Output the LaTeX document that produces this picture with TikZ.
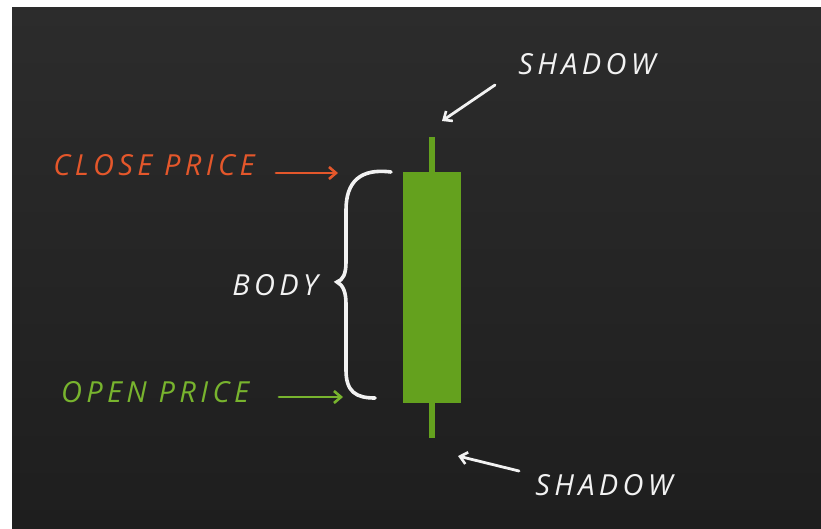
\documentclass[tikz,border=0pt]{standalone}
\usepackage{fontspec}
\setsansfont{Open Sans}
\usetikzlibrary{arrows.meta,positioning}
\definecolor{boardtop}{HTML}{2C2C2C}
\definecolor{boardbot}{HTML}{1E1E1E}
\definecolor{candlegreen}{HTML}{64A11E}
\definecolor{opengreen}{HTML}{78B42E}
\definecolor{closeorange}{HTML}{E4572B}
\definecolor{chalkwhite}{HTML}{F2F2F2}
\begin{document}
\begin{tikzpicture}[x=1pt,y=-1pt,
  word/.style={font=\sffamily\itshape\fontsize{29}{29}\selectfont\addfontfeatures{LetterSpace=15},
    inner sep=0pt, text depth=0pt},
  chalk/.style={line width=2.8pt, line cap=round,
    -{Straight Barb[length=7pt,width=12pt,line width=2.6pt]}},
  candle/.style={fill=candlegreen, draw=none, minimum width=58pt, minimum height=231pt, inner sep=0pt}]
  % board
  \useasboundingbox (0,0) rectangle (821,528);
  \fill[white] (0,0) rectangle (821,528);
  \shade[top color=boardtop, bottom color=boardbot] (12,7) rectangle (821,528);
  % candle
  \coordinate (wicktop) at (432,137);
  \coordinate (wickbot) at (432,438);
  \draw[candlegreen, line width=6pt] (wicktop) -- (wickbot);
  \node[candle] (body) at (432,287.5) {};
  % brace
  \draw[chalkwhite, line width=3.6pt, line cap=round]
    (391,172) .. controls (360,168) and (346,182) .. (346,210)
    -- (346,262) .. controls (346,274) and (343,280) .. (337,282)
    .. controls (343,285) and (346,292) .. (346,304)
    -- (346,370) .. controls (346,392) and (356,398) .. (375,398);
  % labels
  \node[word, text=closeorange] (close) at (154,165) {CLOSE PRICE};
  \node[word, text=opengreen] (open) at (155,392) {OPEN PRICE};
  \node[word, text=chalkwhite] (bodylabel) at (275,285) {BODY};
  \node[word, text=chalkwhite] (shadowtop) at (587,64) {SHADOW};
  \node[word, text=chalkwhite] (shadowbot) at (604,485) {SHADOW};
  % arrows
  \coordinate (closefrom) at (276,173);
  \coordinate (closeto) at (338,173);
  \coordinate (openfrom) at (279,397);
  \coordinate (opento) at (343,397);
  \coordinate (topfrom) at (495,85);
  \coordinate (topto) at (442,121);
  \coordinate (botfrom) at (519,471);
  \coordinate (botto) at (458,456);
  \draw[chalk, closeorange] (closefrom) -- (closeto);
  \draw[chalk, opengreen] (openfrom) -- (opento);
  \draw[chalk, chalkwhite] (topfrom) -- (topto);
  \draw[chalk, chalkwhite] (botfrom) -- (botto);
\end{tikzpicture}
\end{document}
